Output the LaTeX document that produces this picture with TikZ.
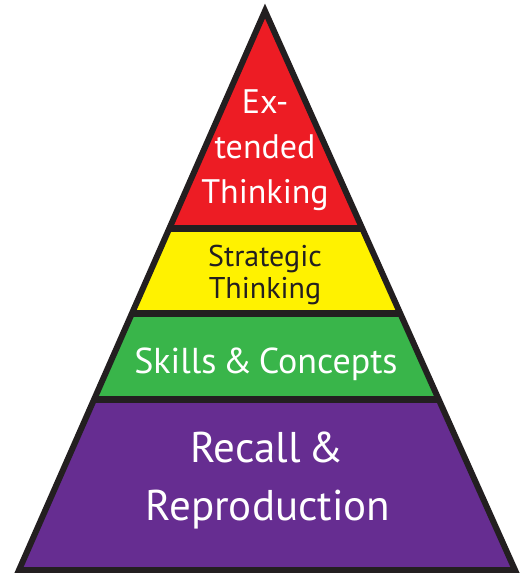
\documentclass[tikz,border=0pt]{standalone}
\usepackage{fontspec}
\setmainfont{PT Sans}
\definecolor{pyrred}{HTML}{ED1C24}
\definecolor{pyryellow}{HTML}{FFF200}
\definecolor{pyrgreen}{HTML}{39B54A}
\definecolor{pyrpurple}{HTML}{662D91}
\definecolor{pyrline}{HTML}{231F20}
\tikzset{
  lbl/.style={anchor=base, inner sep=0pt, text=white},
  lbldark/.style={anchor=base, inner sep=0pt, text=pyrline},
  sep/.style={draw=pyrline, line width=7pt},
}
\begin{document}
\begin{tikzpicture}[x=1pt,y=-1pt]
\useasboundingbox (0,0) rectangle (525,573);
\coordinate (apex) at (265,11);
\coordinate (bl) at (19,570);
\coordinate (br) at (515,570);
\begin{scope}
  \clip (apex) -- (bl) -- (br) -- cycle;
  \fill[pyrred] (0,0) rectangle (525,229);
  \fill[pyryellow] (0,229) rectangle (525,314);
  \fill[pyrgreen] (0,314) rectangle (525,400);
  \fill[pyrpurple] (0,400) rectangle (525,573);
  \coordinate (s1l) at (0,228.5); \coordinate (s1r) at (525,228.5);
  \coordinate (s2l) at (0,313.5); \coordinate (s2r) at (525,313.5);
  \coordinate (s3l) at (0,399.5); \coordinate (s3r) at (525,399.5);
  \draw[sep] (s1l) -- (s1r);
  \draw[sep] (s2l) -- (s2r);
  \draw[sep] (s3l) -- (s3r);
\end{scope}
\draw[pyrline, line width=6pt, line join=miter] (apex) -- (bl) -- (br) -- cycle;
% red
\node[lbl, font=\fontsize{34}{34}\selectfont] (ex) at (265,113) {Ex-};
\node[lbl, font=\fontsize{34}{34}\selectfont] (tended) at (265,158) {tended};
\node[lbl, font=\fontsize{34}{34}\selectfont] (think1) at (265,203) {Thinking};
% yellow
\node[lbldark, font=\fontsize{30}{30}\selectfont] (strat) at (265,266) {Strategic};
\node[lbldark, font=\fontsize{30}{30}\selectfont] (think2) at (265,298) {Thinking};
% green
\node[lbl, font=\fontsize{36}{36}\selectfont] (skills) at (266,373) {Skills\hspace{0.18em}\&\hspace{0.18em}Concepts};
% purple
\node[lbl, font=\fontsize{43}{43}\selectfont] (recall) at (267,462) {Recall\hspace{0.18em}\&};
\node[lbl, font=\fontsize{43}{43}\selectfont] (repro) at (268,520) {Reproduction};
\end{tikzpicture}
\end{document}
